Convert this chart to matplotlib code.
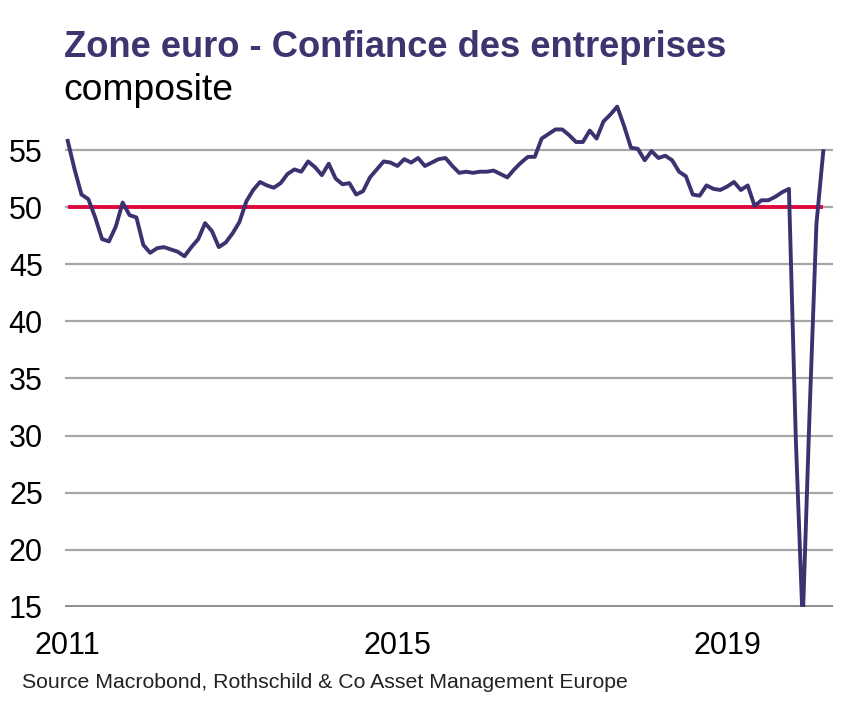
import matplotlib
matplotlib.use("Agg")
import matplotlib.pyplot as plt
import numpy as np

# Monthly composite PMI, May 2011 .. Jul 2020
years = [2011, 2015, 2019]
pmi_2011 = [55.8, 53.3, 51.1, 50.7, 49.1, 47.2, 47.0, 48.3]          # May-Dec
pmi_2012 = [50.4, 49.3, 49.1, 46.7, 46.0, 46.4, 46.5, 46.3, 46.1, 45.7, 46.5, 47.2]
pmi_2013 = [48.6, 47.9, 46.5, 46.9, 47.7, 48.7, 50.5, 51.5, 52.2, 51.9, 51.7, 52.1]
pmi_2014 = [52.9, 53.3, 53.1, 54.0, 53.5, 52.8, 53.8, 52.5, 52.0, 52.1, 51.1, 51.4]
pmi_2015 = [52.6, 53.3, 54.0, 53.9, 53.6, 54.2, 53.9, 54.3, 53.6, 53.9, 54.2, 54.3]
pmi_2016 = [53.6, 53.0, 53.1, 53.0, 53.1, 53.1, 53.2, 52.9, 52.6, 53.3, 53.9, 54.4]
pmi_2017 = [54.4, 56.0, 56.4, 56.8, 56.8, 56.3, 55.7, 55.7, 56.7, 56.0, 57.5, 58.1]
pmi_2018 = [58.8, 57.1, 55.2, 55.1, 54.1, 54.9, 54.3, 54.5, 54.1, 53.1, 52.7, 51.1]
pmi_2019 = [51.0, 51.9, 51.6, 51.5, 51.8, 52.2, 51.5, 51.9, 50.1, 50.6, 50.6, 50.9]
pmi_2020 = [51.3, 51.6, 29.7, 13.6, 31.9, 48.5, 54.9]               # Jan-Jul
threshold = 50
yticks = [15, 20, 25, 30, 35, 40, 45, 50, 55]

values = (pmi_2011 + pmi_2012 + pmi_2013 + pmi_2014 + pmi_2015 + pmi_2016
          + pmi_2017 + pmi_2018 + pmi_2019 + pmi_2020)
x = np.arange(len(values))
tick_pos = [(y - 2011) * 12 for y in years]

FONT = ["Liberation Sans", "DejaVu Sans"]
plt.rcParams["font.family"] = FONT

LINE = "#3b3270"
RED = "#dc0a3c"
GRID = "#a6a6a6"

fig = plt.figure(figsize=(8.64, 7.09), dpi=100)
ax = fig.add_axes([0.0752, 0.1439, 0.964 - 0.0752, 0.869 - 0.1439])

for yv in yticks[1:]:
    ax.axhline(yv, color=GRID, lw=1.6, zorder=1)
ax.axhline(15, color="#8c8c8c", lw=3.5, zorder=1)
ax.hlines(threshold, x[0], x[-1], color=RED, lw=2.8, zorder=2)
ax.plot(x, values, color=LINE, lw=2.8, zorder=3, solid_joinstyle="round")

ax.set_xlim(-0.4, 111.4)
ax.set_ylim(15, 60)
ax.set_yticks(yticks)
ax.set_yticklabels([str(v) for v in yticks], fontsize=22)
ax.set_xticks(tick_pos)
ax.set_xticklabels([str(y) for y in years], fontsize=22)
ax.tick_params(axis="both", length=0)
ax.tick_params(axis="x", pad=17)
ax.tick_params(axis="y", pad=16)
for s in ax.spines.values():
    s.set_visible(False)

fig.text(0.074, 0.920, "Zone euro - Confiance des entreprises", fontsize=26.2,
         fontweight="bold", color="#3f3470", ha="left", va="baseline")
fig.text(0.073, 0.859, "composite", fontsize=26.8, color="black",
         ha="left", va="baseline")
fig.text(0.025, 0.0296, "Source Macrobond, Rothschild & Co Asset Management Europe",
         fontsize=15.3, color="#222222", ha="left", va="baseline")

fig.savefig("out.png", dpi=100)
